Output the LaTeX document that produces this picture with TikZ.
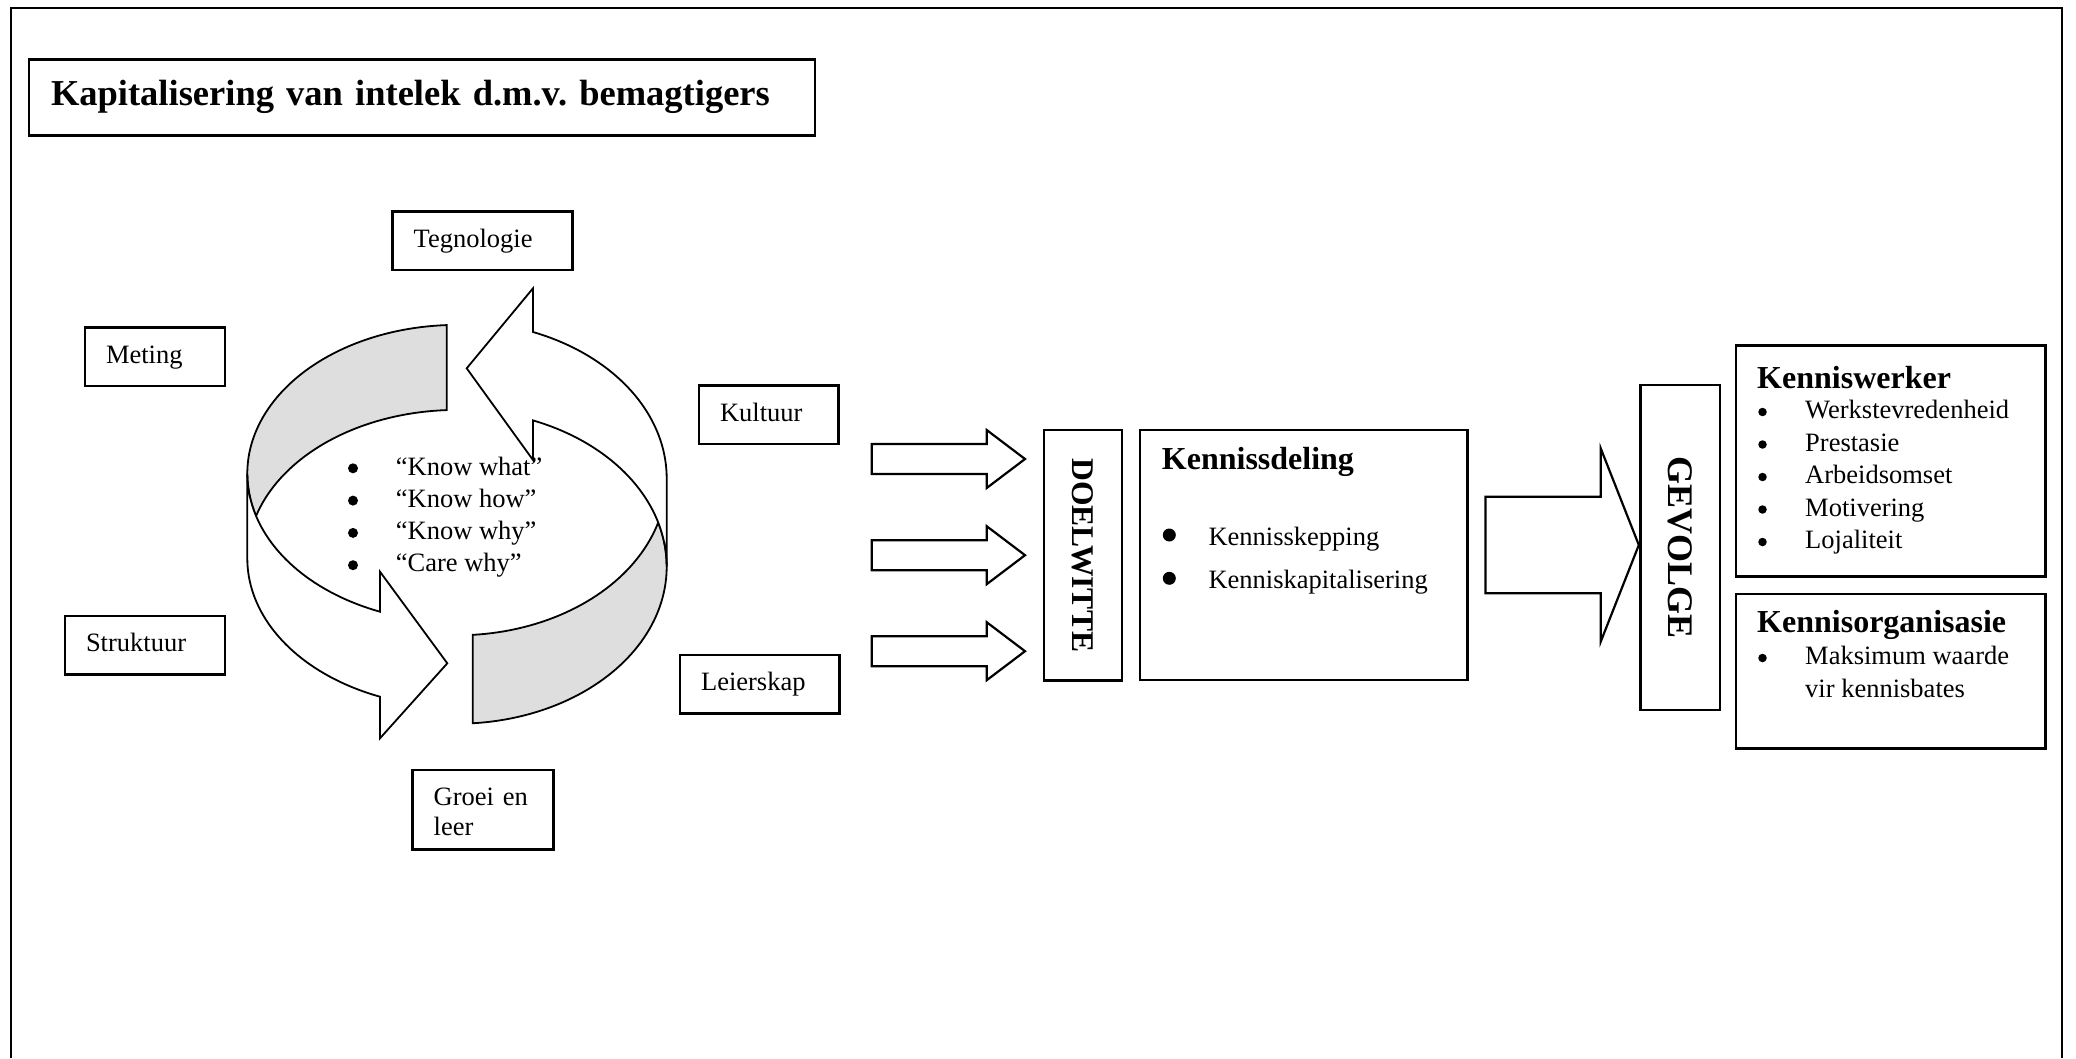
\documentclass[tikz,border=0pt]{standalone}
\usepackage{fontspec}
\setmainfont{Liberation Serif}
\usepackage{graphicx}
\frenchspacing
\definecolor{ribbon}{RGB}{222,222,222}
\tikzset{pics/barrow/.style n args={4}{code={%
  \draw[blockarrow] (0,{-#2}) -- ({#1-#4},{-#2}) -- ({#1-#4},{-#3}) -- (#1,0) -- ({#1-#4},#3) -- ({#1-#4},#2) -- (0,#2) -- cycle;}}}
\begin{document}
\begin{tikzpicture}[x=1pt,y=-1pt,
  box/.style={draw, line width=2.5pt, rectangle, inner sep=0pt},
  lbl/.style={box, font=\fontsize{26.5}{29.3}\selectfont, align=left, inner xsep=21pt, inner ysep=0pt, text height=20pt, text depth=6.6pt},
  txt/.style={anchor=base west, inner sep=0pt, font=\fontsize{26.5}{30}\selectfont},
  headtxt/.style={anchor=base west, inner sep=0pt, font=\bfseries\fontsize{32}{36}\selectfont},
  bulletdot/.style={circle, fill=black, draw=none, inner sep=0pt, minimum size=#1},
  grayface/.style={draw=black, fill=ribbon, line width=1.8pt, line join=miter},
  whiteface/.style={draw=black, fill=white, line width=1.8pt, line join=miter},
  blockarrow/.style={draw=black, fill=white, line width=2.2pt, line join=miter},
  frame/.style={draw=black, line width=2pt}
]
\useasboundingbox (0,0) rectangle (2076,1058);
\fill[white] (0,0) rectangle (2076,1058);

% outer frame (open at the bottom)
\draw[frame] (10.8,1058) -- (10.8,7.5) -- (2061.5,7.5) -- (2061.5,1058);

% title
\node[box, minimum width=786.2pt, minimum height=76pt, text width=741.8pt, align=left,
      inner xsep=22.2pt, inner ysep=0pt, text height=24pt, text depth=9pt,
      font=\bfseries\fontsize{36.5}{40}\selectfont] (title) at (421.9,97.5)
      {Kapitalisering van intelek d.m.v. bemagtigers};

% small label boxes
\node[lbl, minimum width=179.6pt, minimum height=58.3pt, text width=137.6pt] (teg) at (482.5,240.8) {Tegnologie};
\node[lbl, minimum width=140pt, minimum height=58.7pt, text width=98pt] (meting) at (155,356.7) {Meting};
\node[lbl, minimum width=160pt, minimum height=58.3pt, text width=118pt] (struk) at (145,645.2) {Struktuur};
\node[lbl, minimum width=139.3pt, minimum height=58.3pt, text width=97.3pt] (kult) at (768.7,414.8) {Kultuur};
\node[lbl, minimum width=159.3pt, minimum height=58.3pt, text width=117.3pt] (leier) at (759.7,684.2) {Leierskap};
\node[lbl, minimum width=140.6pt, minimum height=79.3pt, text width=98.6pt, text height=21pt, text depth=29pt] (groei) at (483,809.7) {Groei en\\leer};

% circular ribbon arrows
\draw[grayface] plot[domain=267.19:163.38, samples=60] ({457+209.7*cos(\x)},{473.5+148.6*sin(\x)})
  -- plot[domain=196.62:267.19, samples=40] ({457+209.7*cos(\x)},{558.5+148.6*sin(\x)}) -- cycle;
\draw[whiteface] plot[domain=180:111.54, samples=40] ({457+209.7*cos(\x)},{473.5+148.6*sin(\x)})
  -- (380,571.7) -- (447.3,663.3) -- (380,738.3)
  -- plot[domain=111.54:180, samples=40] ({457+209.7*cos(\x)},{558.5+148.6*sin(\x)}) -- cycle;
\draw[grayface] plot[domain=85.70:-16.35, samples=60] ({457+209.7*cos(\x)},{566.7+157*sin(\x)})
  -- plot[domain=16.35:85.70, samples=40] ({457+209.7*cos(\x)},{478.3+157*sin(\x)}) -- cycle;
\draw[whiteface] plot[domain=291.25:360, samples=40] ({457+209.7*cos(\x)},{478.3+157*sin(\x)})
  -- plot[domain=360:291.25, samples=40] ({457+209.7*cos(\x)},{566.7+157*sin(\x)})
  -- (533,460) -- (466.7,368.3) -- (533,288.3) -- cycle;

% list inside the cycle
\node[bulletdot=10pt] (cb1) at (353,468.3) {};
\node[bulletdot=10pt] (cb2) at (353,500.6) {};
\node[bulletdot=10pt] (cb3) at (353,532.9) {};
\node[bulletdot=10pt] (cb4) at (353,565.2) {};
\node[txt] (ct1) at (395.7,475) {“Know what”};
\node[txt] (ct2) at (395.7,507.3) {“Know how”};
\node[txt] (ct3) at (395.7,539.6) {“Know why”};
\node[txt] (ct4) at (395.7,571.9) {“Care why”};

% three block arrows
\pic at (871.7,459) {barrow={153.3}{15}{29}{38.3}};
\pic at (871.7,555.2) {barrow={153.3}{15}{29}{38.3}};
\pic at (871.7,651.2) {barrow={153.3}{15}{29}{38.3}};

% DOELWITTE
\node[box, minimum width=77.7pt, minimum height=250.7pt, font=\bfseries\fontsize{31.6}{34}\selectfont] (doel) at (1082.9,555.3) {\rotatebox{-90}{DOELWITTE}};

% Kennissdeling
\node[box, minimum width=327.7pt, minimum height=250pt] (kdel) at (1303.8,555) {};
\node[headtxt] (kdelh) at (1161.7,469.3) {Kennissdeling};
\node[bulletdot=13pt] (kdb1) at (1169.3,535) {};
\node[bulletdot=13pt] (kdb2) at (1169.3,578.3) {};
\node[txt] (kdi1) at (1208.3,545) {Kennisskepping};
\node[txt] (kdi2) at (1208.3,588.3) {Kenniskapitalisering};

% big arrow
\pic at (1485.5,545) {barrow={153.3}{48.3}{96.7}{38.1}};

% GEVOLGE
\node[box, minimum width=79.3pt, minimum height=325pt, font=\bfseries\fontsize{36}{40}\selectfont] (gev) at (1680.3,547.5) {\rotatebox{-90}{GEVOLGE}};

% Kenniswerker
\node[box, minimum width=309.6pt, minimum height=231pt] (kw) at (1890.8,461) {};
\node[headtxt] (kwh) at (1757,388) {Kenniswerker};
\foreach \t [count=\i from 0] in {Werkstevredenheid,Prestasie,Arbeidsomset,Motivering,Lojaliteit}{
  \node[bulletdot=8.5pt] (kwb\i) at (1762.5,{412+32.5*\i}) {};
  \node[txt] (kwi\i) at (1805,{418.5+32.5*\i}) {\t};
}

% Kennisorganisasie
\node[box, minimum width=309.6pt, minimum height=154.3pt] (ko) at (1890.8,671.1) {};
\node[headtxt] (koh) at (1757,632) {Kennisorganisasie};
\node[bulletdot=8.5pt] (kob) at (1762.5,658) {};
\node[txt] (koi1) at (1805,664.5) {Maksimum waarde};
\node[txt] (koi2) at (1805,697) {vir kennisbates};
\end{tikzpicture}
\end{document}
